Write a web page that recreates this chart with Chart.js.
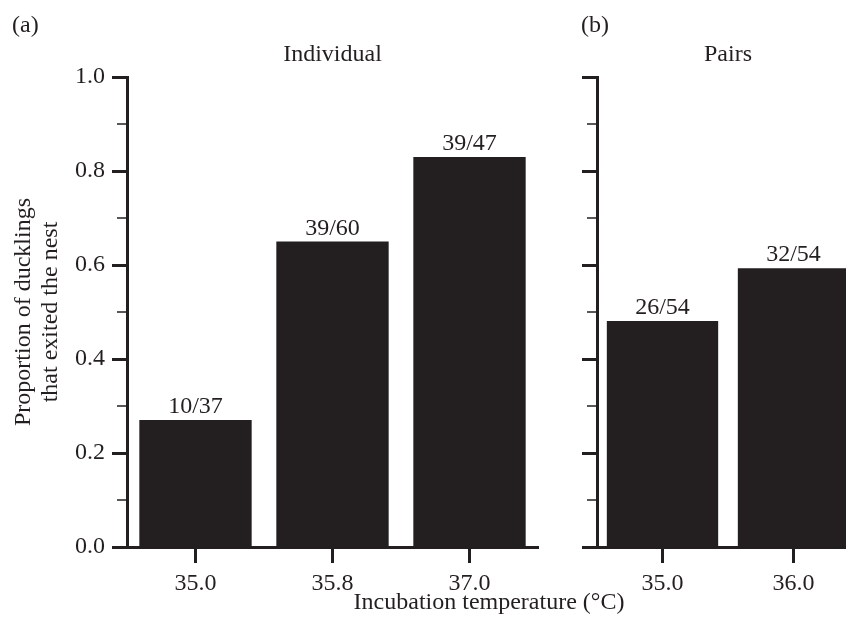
<!DOCTYPE html>
<html lang="en">
<head>
<meta charset="UTF-8">
<title>Ducklings that exited the nest</title>
<style>
    html, body {
        margin: 0;
        padding: 0;
        background: #ffffff;
        overflow: hidden;
    }

    body {
        position: relative;
        width: 846px;
        height: 627px;
        font-family: "Liberation Serif", serif;
        color: #231f20;
    }

    .panel {
        position: absolute;
        top: 0;
        height: 627px;
    }

    #panelA { left: 0; width: 560px; }
    #panelB { left: 540px; width: 340px; }

    .txt {
        position: absolute;
        font-size: 24px;
        line-height: 1;
        white-space: nowrap;
    }

    .center { text-align: center; }
</style>
</head>
<body>
    <div class="panel" id="panelA"><canvas id="chartA"></canvas></div>
    <div class="panel" id="panelB"><canvas id="chartB"></canvas></div>

    <div class="txt" style="left:12px; top:12px;">(a)</div>
    <div class="txt" style="left:581px; top:12px;">(b)</div>
    <div class="txt center" style="left:127px; width:411px; top:41px;">Individual</div>
    <div class="txt center" style="left:597px; width:262px; top:41px;">Pairs</div>
    <div class="txt center" style="left:189px; width:600px; top:589px;">Incubation temperature (°C)</div>

    <script src="https://cdn.jsdelivr.net/npm/chart.js"></script>
    <script>
        // Data
        const individualTemps = ["35.0", "35.8", "37.0"];
        const individualProp = [0.270, 0.650, 0.830];
        const individualCounts = ["10/37", "39/60", "39/47"];

        const pairTemps = ["35.0", "36.0"];
        const pairProp = [0.481, 0.593];
        const pairCounts = ["26/54", "32/54"];

        const yTicks = [0, 0.1, 0.2, 0.3, 0.4, 0.5, 0.6, 0.7, 0.8, 0.9, 1.0];

        const INK = "#231f20";
        const FONT = { family: "'Liberation Serif', serif", size: 24 };

        // n/N text above each bar
        const barLabels = {
            id: "barLabels",
            afterDatasetsDraw(chart, args, opts) {
                const ctx = chart.ctx;
                const meta = chart.getDatasetMeta(0);
                ctx.save();
                ctx.font = "24px 'Liberation Serif', serif";
                ctx.fillStyle = INK;
                ctx.textAlign = "center";
                ctx.textBaseline = "alphabetic";
                meta.data.forEach((bar, i) => {
                    ctx.fillText(opts.labels[i], bar.x, bar.y - 7);
                });
                ctx.restore();
            }
        };

        // shorter, thinner ticks at the odd tenths
        const minorTicks = {
            id: "minorTicks",
            afterDraw(chart) {
                const y = chart.scales.y;
                const ctx = chart.ctx;
                ctx.save();
                ctx.strokeStyle = INK;
                ctx.lineWidth = 1.5;
                y.ticks.forEach((t, i) => {
                    if (i % 2 === 0) return;
                    const py = y.getPixelForValue(t.value);
                    ctx.beginPath();
                    ctx.moveTo(y.right - 10, py);
                    ctx.lineTo(y.right, py);
                    ctx.stroke();
                });
                ctx.restore();
            }
        };

        function makeChart(id, labels, values, counts, opt) {
            return new Chart(document.getElementById(id), {
                type: "bar",
                data: {
                    labels: labels,
                    datasets: [{
                        data: values,
                        backgroundColor: INK,
                        borderWidth: 0,
                        categoryPercentage: 1.0,
                        barPercentage: opt.barPct,
                    }],
                },
                plugins: [barLabels, minorTicks],
                options: {
                    responsive: true,
                    maintainAspectRatio: false,
                    animation: false,
                    layout: { padding: { top: 77, right: opt.padRight, bottom: 0, left: 0 } },
                    plugins: {
                        legend: { display: false },
                        tooltip: { enabled: false },
                        barLabels: { labels: counts },
                    },
                    scales: {
                        x: {
                            offset: true,
                            grid: {
                                offset: false,
                                drawOnChartArea: false,
                                tickLength: 16,
                                tickWidth: 3,
                                tickColor: INK,
                            },
                            border: { width: 3, color: INK },
                            ticks: { color: INK, font: FONT, padding: 6 },
                            afterFit: (s) => { s.height = 80; },
                        },
                        y: {
                            min: 0,
                            max: 1,
                            afterBuildTicks: (s) => { s.ticks = yTicks.map(v => ({ value: v })); },
                            ticks: {
                                autoSkip: false,
                                color: INK,
                                font: FONT,
                                padding: 7,
                                callback: (v, i) => (opt.showY && i % 2 === 0) ? v.toFixed(1) : "",
                            },
                            grid: {
                                drawOnChartArea: false,
                                tickLength: 15,
                                tickWidth: (c) => c.index % 2 === 0 ? 3 : 0,
                                tickColor: INK,
                            },
                            border: { width: 3, color: INK },
                            title: {
                                display: opt.showY,
                                text: ["Proportion of ducklings", "that exited the nest"],
                                color: INK,
                                font: { family: "'Liberation Serif', serif", size: 24, lineHeight: 1.12 },
                                padding: { top: 10, bottom: 0 },
                            },
                            afterFit: (s) => { s.width = opt.yWidth; },
                        },
                    },
                },
            });
        }

        makeChart("chartA", individualTemps, individualProp, individualCounts,
            { barPct: 0.82, padRight: 22, yWidth: 127, showY: true });
        makeChart("chartB", pairTemps, pairProp, pairCounts,
            { barPct: 0.85, padRight: 21, yWidth: 57, showY: false });
    </script>
</body>
</html>
